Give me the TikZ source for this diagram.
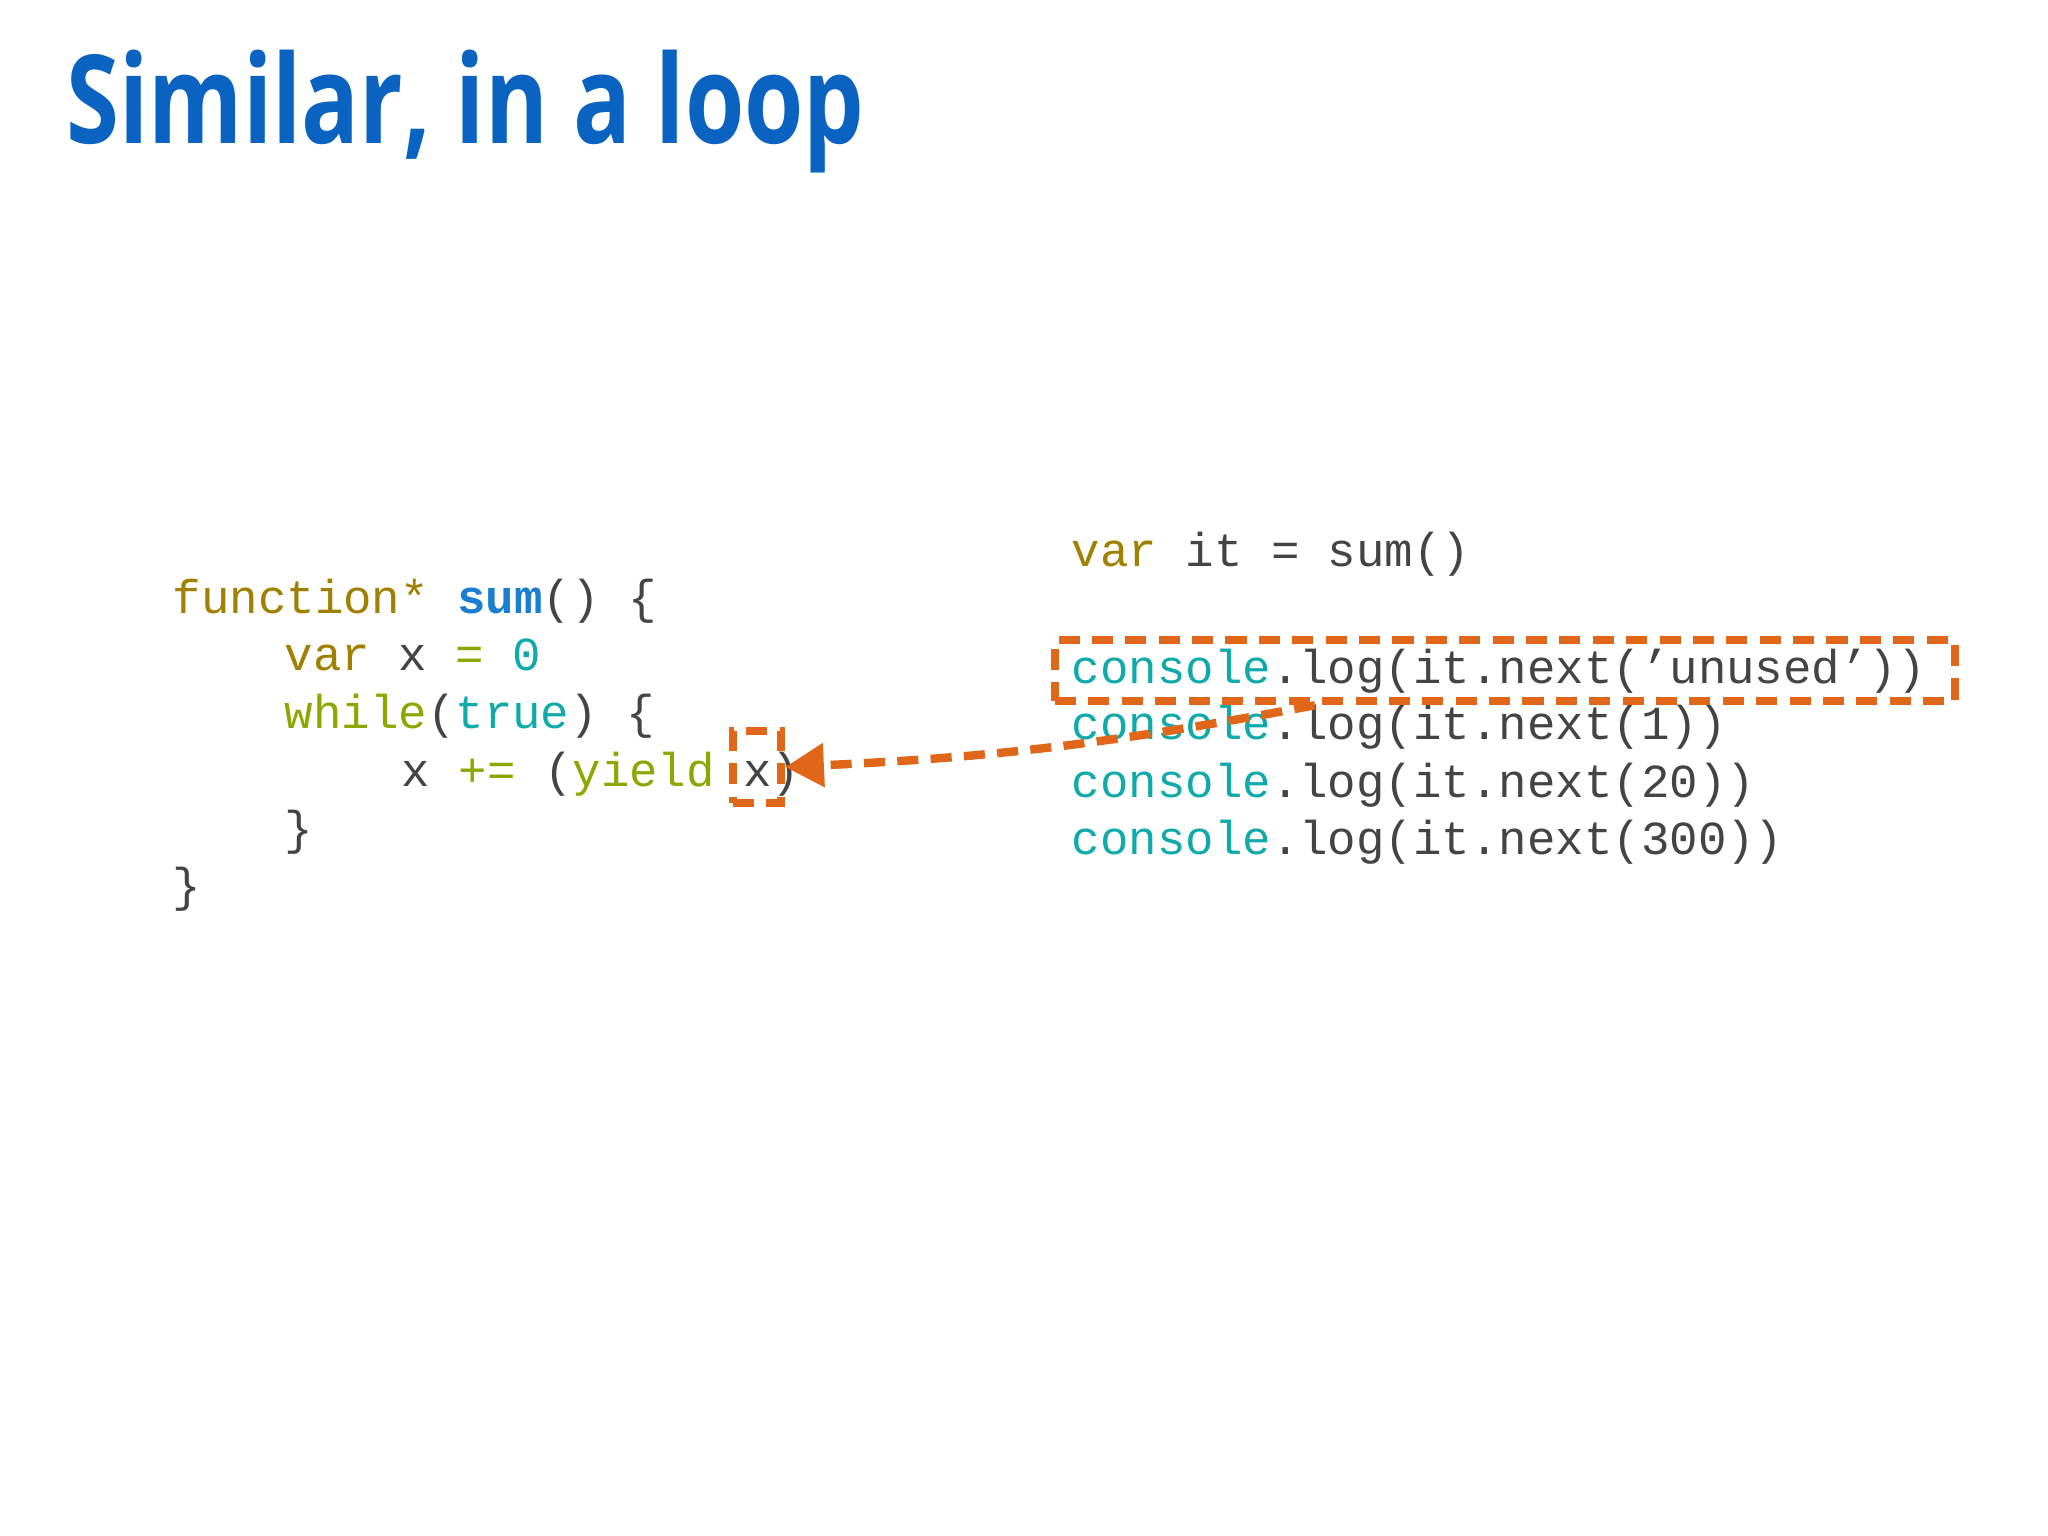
\documentclass[tikz,border=0pt]{standalone}
\usepackage{fontspec}
\setmainfont{Liberation Mono}
\newfontfamily\titlefont[FakeStretch=0.78]{Open Sans}
\usetikzlibrary{arrows.meta}
\definecolor{kw}{HTML}{A08000}
\definecolor{gr}{HTML}{8AA800}
\definecolor{tl}{HTML}{10AAAA}
\definecolor{bl}{HTML}{1A7FD0}
\definecolor{tx}{HTML}{444444}
\definecolor{tt}{HTML}{0A63C0}
\definecolor{or}{HTML}{E0661A}
\tikzset{code/.style={anchor=base west,inner sep=0,font=\fontsize{13.5}{15}\selectfont,text=tx},
 hl/.style={draw=or,line width=2.4pt,dash pattern=on 6pt off 3.5pt,inner sep=0}}
\begin{document}
\begin{tikzpicture}[x=1cm,y=1cm]
\useasboundingbox (0,0) rectangle (20.48,-15.36);
\node[anchor=base west,inner sep=0,text=tt,font=\titlefont\bfseries\fontsize{35}{40}\selectfont] (title) at (0.66,-1.44) {Similar, in a loop};
\node[code] (l1) at (1.72,-6.14) {\textcolor{kw}{function*} \textcolor{bl}{\bfseries sum}() \{};
\node[code] (l2) at (2.84,-6.71) {\textcolor{kw}{var} x \textcolor{gr}{=} \textcolor{tl}{0}};
\node[code] (l3) at (2.84,-7.29) {\textcolor{gr}{while}(\textcolor{tl}{true}) \{};
\node[code] (l4) at (4.01,-7.86) {x \textcolor{gr}{+=} (\textcolor{gr}{yield} x)};
\node[code] (l5) at (2.84,-8.44) {\}};
\node[code] (l6) at (1.72,-9.01) {\}};
\node[code] (r1) at (10.71,-5.67) {\textcolor{kw}{var} it = sum()};
\node[code] (r2) at (10.71,-6.83) {\textcolor{tl}{console}.log(it.next(’unused’))};
\node[code] (r3) at (10.71,-7.40) {\textcolor{tl}{console}.log(it.next(1))};
\node[code] (r4) at (10.71,-7.98) {\textcolor{tl}{console}.log(it.next(20))};
\node[code] (r5) at (10.71,-8.55) {\textcolor{tl}{console}.log(it.next(300))};
\node[hl,minimum width=9.0cm,minimum height=0.61cm] (big) at (15.05,-6.705) {};
\node[hl,minimum width=0.48cm,minimum height=0.72cm] (small) at (7.57,-7.67) {};
\draw[or,line width=2.4pt,dash pattern=on 6pt off 3.5pt,-{Triangle[length=11pt,width=12pt]}]
 ([xshift=-1.9cm]big.south) to[bend left=4] (small.east);
\end{tikzpicture}
\end{document}
